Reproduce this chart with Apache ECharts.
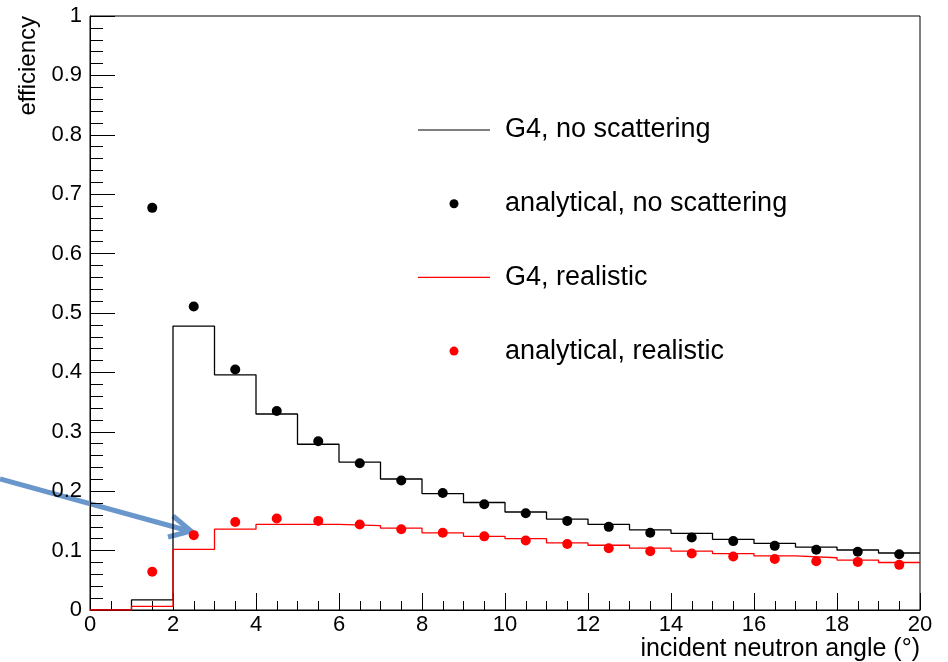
<!DOCTYPE html>
<html>
<head>
<meta charset="utf-8">
<script src="https://cdn.jsdelivr.net/npm/echarts@6/dist/echarts.min.js"></script>
<style>
  html, body { margin: 0; padding: 0; background: #fff; }
  #main { width: 948px; height: 662px; }
</style>
</head>
<body>
<div id="main"></div>
<script>
// bin left edges, width 1
var binLeft = [0, 1, 2, 3, 4, 5, 6, 7, 8, 9, 10, 11, 12, 13, 14, 15, 16, 17, 18, 19];
var g4NoScat = [0, 0.017, 0.478, 0.396, 0.330, 0.279, 0.249, 0.2205, 0.196, 0.181, 0.165, 0.153, 0.144, 0.135, 0.129, 0.119, 0.112, 0.106, 0.101, 0.096];
var g4Real = [0, 0.006, 0.102, 0.136, 0.144, 0.144, 0.142, 0.138, 0.130, 0.124, 0.120, 0.113, 0.109, 0.104, 0.099, 0.095, 0.091, 0.088, 0.084, 0.080];

// analytical points at bin centres
var anaX = [1.5, 2.5, 3.5, 4.5, 5.5, 6.5, 7.5, 8.5, 9.5, 10.5, 11.5, 12.5, 13.5, 14.5, 15.5, 16.5, 17.5, 18.5, 19.5];
var anaNoScat = [0.677, 0.511, 0.405, 0.335, 0.284, 0.247, 0.218, 0.197, 0.178, 0.163, 0.150, 0.140, 0.130, 0.122, 0.116, 0.108, 0.1015, 0.098, 0.094];
var anaReal = [0.0645, 0.126, 0.148, 0.154, 0.150, 0.144, 0.136, 0.130, 0.124, 0.117, 0.111, 0.104, 0.099, 0.095, 0.090, 0.086, 0.082, 0.081, 0.076];

var names = ['G4, no scattering', 'analytical, no scattering', 'G4, realistic', 'analytical, realistic'];

function histData(vals) {
    var d = binLeft.map(function (x, i) { return [x, vals[i]]; });
    d.push([binLeft[binLeft.length - 1] + 1, vals[vals.length - 1]]);
    return d;
}
function pts(vals) {
    return anaX.map(function (x, i) { return [x, vals[i]]; });
}

var font = 'Liberation Sans, Arial, Helvetica, sans-serif';
var lineIcon = 'path://M0,0H72V1.2H0Z';
var chart = echarts.init(document.getElementById('main'));

var option = {
    animation: false,
    textStyle: { fontFamily: font },
    grid: {
        left: 90, right: 28, top: 16, bottom: 52,
        outerBoundsMode: 'none', containLabel: false,
        show: true, borderColor: '#000', borderWidth: 1
    },
    legend: {
        orient: 'vertical',
        left: 413, top: 111,
        itemWidth: 72, itemHeight: 9, itemGap: 45.7,
        textStyle: { fontSize: 27, color: '#000', lineHeight: 28, padding: [0, 0, 0, 10], fontFamily: font },
        data: [
            { name: names[0], icon: lineIcon },
            { name: names[1], icon: 'circle' },
            { name: names[2], icon: lineIcon },
            { name: names[3], icon: 'circle' }
        ]
    },
    xAxis: {
        type: 'value', min: 0, max: 20, interval: 2,
        name: 'incident neutron angle (°)',
        nameLocation: 'end', nameGap: 0, nameMoveOverlap: false,
        nameTextStyle: { fontSize: 25, color: '#000', align: 'right', verticalAlign: 'top', padding: [27, 0, 0, 0] },
        axisLine: { onZero: false, lineStyle: { color: '#000' } },
        axisTick: { inside: true, length: 17, lineStyle: { color: '#000' } },
        minorTick: { show: true, splitNumber: 4, length: 9, lineStyle: { color: '#000' } },
        axisLabel: { fontSize: 22, color: '#000', margin: 4 },
        splitLine: { show: false }
    },
    yAxis: {
        type: 'value', min: 0, max: 1, interval: 0.1,
        name: 'efficiency',
        nameLocation: 'end', nameGap: 0, nameRotate: 90, nameMoveOverlap: false,
        nameTextStyle: { fontSize: 24, color: '#000', align: 'right', verticalAlign: 'bottom', padding: [0, 0, 50, 0] },
        axisLine: { onZero: false, lineStyle: { color: '#000' } },
        axisTick: { inside: true, length: 25, lineStyle: { color: '#000' } },
        minorTick: { show: true, splitNumber: 5, length: 13, lineStyle: { color: '#000' } },
        axisLabel: { fontSize: 22, color: '#000', margin: 8 },
        splitLine: { show: false }
    },
    series: [
        {
            name: names[0], type: 'line', step: 'end', symbol: 'none',
            lineStyle: { color: '#000', width: 1.3 }, itemStyle: { color: '#000' },
            data: histData(g4NoScat), z: 3
        },
        {
            name: names[1], type: 'scatter', symbolSize: 10,
            itemStyle: { color: '#000', opacity: 1 },
            data: pts(anaNoScat), z: 4
        },
        {
            name: names[2], type: 'line', step: 'end', symbol: 'none',
            lineStyle: { color: '#ff0000', width: 1.3 }, itemStyle: { color: '#ff0000' },
            data: histData(g4Real), z: 3
        },
        {
            name: names[3], type: 'scatter', symbolSize: 10,
            itemStyle: { color: '#ff0000', opacity: 1 },
            data: pts(anaReal), z: 4
        }
    ],
    graphic: [
        {
            type: 'group', z: 100,
            children: [
                { type: 'line', shape: { x1: 0, y1: 479, x2: 189, y2: 531 },
                  style: { stroke: '#6a97cb', lineWidth: 5 } },
                { type: 'polyline', shape: { points: [[173, 516], [191, 531], [168, 537]] },
                  style: { stroke: '#6a97cb', lineWidth: 5, fill: null, lineJoin: 'miter' } }
            ]
        }
    ]
};

chart.setOption(option);
</script>
</body>
</html>
